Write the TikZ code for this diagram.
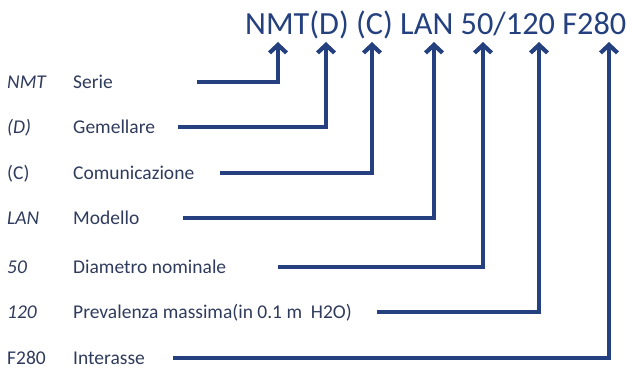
\documentclass[tikz,border=0pt]{standalone}
\usepackage{fontspec}
\setmainfont{Carlito}
\usetikzlibrary{arrows.meta}
\definecolor{navy}{HTML}{24407E}
\definecolor{lbl}{HTML}{2F3B5C}
\begin{document}
\begin{tikzpicture}[x=1pt,y=-1pt,
  code/.style={anchor=base west,inner sep=0pt,text=lbl,font=\fontsize{19.5}{22}\selectfont},
  desc/.style={anchor=base west,inner sep=0pt,text=lbl,font=\fontsize{19.5}{22}\selectfont},
  conn/.style={draw=navy,line width=4pt,line join=miter,-{Straight Barb[length=8pt,width=17pt,line width=4.2pt]}}]
\useasboundingbox (0,0) rectangle (631,368);
\node[anchor=base west,inner sep=0pt,text=navy,font=\fontsize{32.3}{36}\selectfont] (title) at (245,34) {NMT(D) (C) LAN 50/120 F280};
% rows
\node[code] (c1) at (7,88) {\itshape NMT};
\node[desc] (d1) at (73,88) {Serie};
\node[code] (c2) at (7,133) {\itshape (D)};
\node[desc] (d2) at (73,133) {Gemellare};
\node[code] (c3) at (7,179) {(C)};
\node[desc] (d3) at (73,179) {Comunicazione};
\node[code] (c4) at (7,224) {\itshape LAN};
\node[desc] (d4) at (73,224) {Modello};
\node[code] (c5) at (7,273) {\itshape 50};
\node[desc] (d5) at (73,273) {Diametro nominale};
\node[code] (c6) at (7,318) {\itshape 120};
\node[desc] (d6) at (73,318) {Prevalenza massima(in 0.1 m\ \ H2O)};
\node[code] (c7) at (7,364) {F280};
\node[desc] (d7) at (73,364) {Interasse};
% connector start points
\coordinate (s1) at (197,82);
\coordinate (s2) at (178,127);
\coordinate (s3) at (220,173);
\coordinate (s4) at (183,218);
\coordinate (s5) at (278,267);
\coordinate (s6) at (377,312);
\coordinate (s7) at (173,358);
% arrow tips under the title
\coordinate (t1) at (278,42);
\coordinate (t2) at (326,42);
\coordinate (t3) at (372,42);
\coordinate (t4) at (434,42);
\coordinate (t5) at (483,42);
\coordinate (t6) at (539,42);
\coordinate (t7) at (609,42);
\draw[conn] (s1) -| (t1);
\draw[conn] (s2) -| (t2);
\draw[conn] (s3) -| (t3);
\draw[conn] (s4) -| (t4);
\draw[conn] (s5) -| (t5);
\draw[conn] (s6) -| (t6);
\draw[conn] (s7) -| (t7);
\end{tikzpicture}
\end{document}
